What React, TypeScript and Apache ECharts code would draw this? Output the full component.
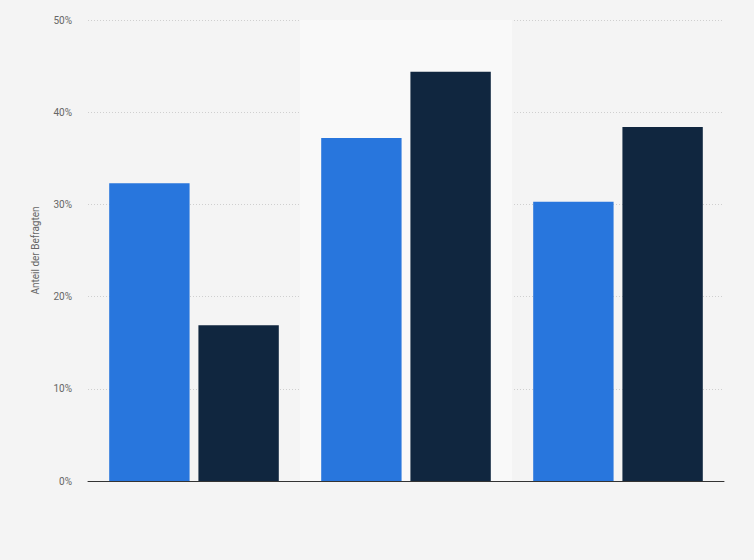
import * as echarts from 'echarts'
import React, { useEffect, useRef } from 'react'

const categories = ['Gruppe 1', 'Gruppe 2', 'Gruppe 3']
const seriesA = [32.3, 37.2, 30.3]
const seriesB = [16.9, 44.4, 38.4]
const yTicks = [0, 10, 20, 30, 40, 50]

export default function App() {
  const chartRef = useRef<HTMLDivElement>(null)

  useEffect(() => {
    document.body.style.margin = '0'
    document.body.style.background = '#f4f4f4'
    const chart = echarts.init(chartRef.current, null, { renderer: 'svg' })

    chart.setOption({
      animation: false,
      backgroundColor: '#f4f4f4',
      textStyle: { fontFamily: 'Roboto, sans-serif' },
      grid: { left: 88, right: 30, top: 20, bottom: 79 },
      xAxis: {
        type: 'category',
        data: categories,
        axisLine: { lineStyle: { color: '#333', width: 1 } },
        axisTick: { show: false },
        axisLabel: { show: false },
        splitArea: { show: true, areaStyle: { color: ['rgba(0,0,0,0)', '#f9f9f9'] } },
      },
      yAxis: {
        type: 'value',
        min: yTicks[0],
        max: yTicks[yTicks.length - 1],
        interval: 10,
        name: 'Anteil der Befragten',
        nameLocation: 'middle',
        nameGap: 48,
        nameTextStyle: { color: '#666', fontSize: 10 },
        axisLine: { show: false },
        axisTick: { show: false },
        axisLabel: { color: '#666', fontSize: 10, margin: 16, formatter: '{value}%' },
        splitLine: { lineStyle: { color: '#cfcfcf', type: [1, 2], width: 1 } },
      },
      series: [
        {
          name: 'A',
          type: 'bar',
          data: seriesA,
          barGap: '11%',
          barCategoryGap: '20%',
          itemStyle: { color: '#2876dd' },
        },
        {
          name: 'B',
          type: 'bar',
          data: seriesB,
          itemStyle: { color: '#10263f' },
        },
      ],
    })

    return () => {
      chart.dispose()
    }
  }, [])

  return <div ref={chartRef} style={{ width: '754px', height: '560px' }} />
}
